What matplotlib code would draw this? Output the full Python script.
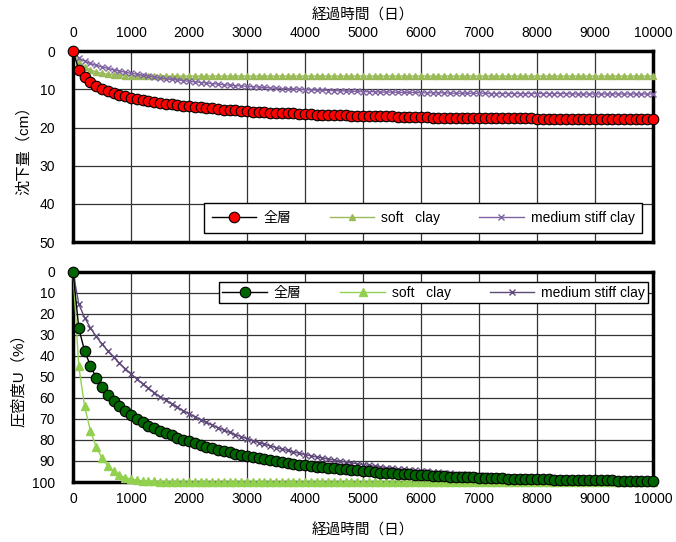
import matplotlib
matplotlib.use("Agg")
import matplotlib.pyplot as plt
import numpy as np

plt.rcParams["font.family"] = ["Liberation Sans", "Noto Sans CJK JP", "DejaVu Sans"]
plt.rcParams["font.size"] = 10

# 経過時間（日）: every 100 days
days = np.arange(0, 10001, 100)

# 沈下量 (cm)
settle_all = [
    0, 4.8, 6.7, 8.0, 9.0, 9.8, 10.5, 11.0, 11.4, 11.8,
    12.2, 12.5, 12.8, 13.1, 13.3, 13.6, 13.8, 13.9, 14.1, 14.3,
    14.4, 14.6, 14.7, 14.9, 15.0, 15.1, 15.3, 15.4, 15.5, 15.6,
    15.7, 15.8, 15.9, 16.0, 16.1, 16.1, 16.2, 16.3, 16.3, 16.4,
    16.5, 16.5, 16.6, 16.6, 16.7, 16.7, 16.8, 16.8, 16.9, 16.9,
    17.0, 17.0, 17.1, 17.1, 17.1, 17.1, 17.2, 17.2, 17.3, 17.3,
    17.3, 17.3, 17.4, 17.4, 17.4, 17.4, 17.4, 17.5, 17.5, 17.5,
    17.5, 17.5, 17.6, 17.6, 17.6, 17.6, 17.6, 17.6, 17.6, 17.6,
    17.7, 17.7, 17.7, 17.7, 17.7, 17.7, 17.7, 17.7, 17.7, 17.7,
    17.8, 17.8, 17.8, 17.8, 17.8, 17.8, 17.8, 17.8, 17.8, 17.8,
    17.8,
]
settle_soft = [
    0, 2.9, 4.2, 4.9, 5.4, 5.8, 6.0, 6.2, 6.3, 6.4,
    6.4, 6.4, 6.4, 6.4, 6.4, 6.4, 6.5, 6.5, 6.5, 6.5,
] + [6.5] * 81
settle_med = [
    0, 1.8, 2.6, 3.2, 3.7, 4.1, 4.5, 4.9, 5.2, 5.5,
    5.8, 6.0, 6.3, 6.5, 6.8, 7.0, 7.2, 7.4, 7.5, 7.7,
    7.9, 8.0, 8.2, 8.3, 8.5, 8.6, 8.8, 8.9, 9.0, 9.1,
    9.2, 9.3, 9.4, 9.5, 9.6, 9.7, 9.8, 9.8, 9.9, 10.0,
    10.1, 10.1, 10.2, 10.2, 10.3, 10.3, 10.4, 10.4, 10.5, 10.5,
    10.6, 10.6, 10.6, 10.7, 10.7, 10.7, 10.8, 10.8, 10.8, 10.8,
    10.9, 10.9, 10.9, 10.9, 10.9, 11.0, 11.0, 11.0, 11.0, 11.0,
    11.0, 11.0, 11.1, 11.1, 11.1, 11.1, 11.1, 11.1, 11.1, 11.1,
    11.1, 11.1, 11.1, 11.1, 11.1, 11.1, 11.2, 11.2, 11.2, 11.2,
    11.2, 11.2, 11.2, 11.2, 11.2, 11.2, 11.2, 11.2, 11.2, 11.2,
    11.2,
]

# 圧密度U (%)
u_all = [
    0, 26.8, 37.6, 44.6, 50.4, 54.9, 58.4, 61.3, 63.9, 66.2,
    68.2, 70.0, 71.6, 73.1, 74.4, 75.7, 76.9, 77.8, 78.9, 79.8,
    80.7, 81.5, 82.3, 83.1, 83.8, 84.6, 85.2, 85.9, 86.5, 87.1,
    87.6, 88.2, 88.7, 89.2, 89.7, 90.1, 90.5, 91.0, 91.3, 91.7,
    92.1, 92.3, 92.7, 93.0, 93.3, 93.5, 93.8, 94.0, 94.3, 94.5,
    94.8, 95.0, 95.3, 95.5, 95.7, 95.8, 96.0, 96.2, 96.4, 96.5,
    96.7, 96.9, 97.0, 97.1, 97.2, 97.4, 97.5, 97.6, 97.7, 97.8,
    97.9, 98.0, 98.1, 98.2, 98.2, 98.4, 98.4, 98.5, 98.6, 98.6,
    98.7, 98.7, 98.8, 98.9, 98.9, 98.9, 99.0, 99.1, 99.1, 99.1,
    99.2, 99.2, 99.2, 99.2, 99.3, 99.3, 99.4, 99.4, 99.4, 99.4,
    99.5,
]
u_soft = [
    0, 45.0, 64.0, 75.6, 83.3, 88.7, 92.4, 95.0, 96.7, 98.0,
    98.6, 99.1, 99.4, 99.6, 99.7, 99.8, 99.9, 99.9,
] + [100.0] * 83
u_med = [
    0, 15.3, 21.7, 26.6, 30.7, 34.3, 37.6, 40.6, 43.4, 46.0,
    48.5, 50.9, 53.2, 55.3, 57.4, 59.4, 61.0, 62.7, 64.4, 66.0,
    67.5, 68.9, 70.3, 71.6, 72.9, 74.1, 75.3, 76.4, 77.4, 78.4,
    79.4, 80.3, 81.2, 82.0, 82.8, 83.6, 84.3, 85.0, 85.7, 86.3,
    87.0, 87.5, 88.1, 88.6, 89.1, 89.6, 90.1, 90.5, 90.9, 91.3,
    91.7, 92.1, 92.5, 92.8, 93.1, 93.4, 93.7, 94.0, 94.3, 94.5,
    94.8, 95.0, 95.2, 95.4, 95.6, 95.8, 96.0, 96.2, 96.4, 96.5,
    96.7, 96.8, 97.0, 97.1, 97.2, 97.4, 97.5, 97.6, 97.7, 97.8,
    97.9, 98.0, 98.1, 98.2, 98.3, 98.3, 98.4, 98.5, 98.5, 98.6,
    98.7, 98.7, 98.8, 98.8, 98.9, 98.9, 99.0, 99.0, 99.1, 99.1,
    99.2,
]

labels = ["全層", "soft   clay", "medium stiff clay"]

fig = plt.figure(figsize=(6.76, 5.42), dpi=100)
ax1 = fig.add_axes([0.108, 0.5535, 0.858, 0.352])
ax2 = fig.add_axes([0.108, 0.1107, 0.858, 0.3875])

#######################上: 沈下量########################
ax1.plot(days, settle_all, color="black", lw=1, marker="o", ms=7.6,
         mfc="#FF0000", mec="black", mew=0.8, label=labels[0], clip_on=False, zorder=5)
ax1.plot(days, settle_soft, color="#9BBB59", lw=1, marker="^", ms=5,
         mfc="#9BBB59", mec="#9BBB59", label=labels[1], clip_on=False, zorder=4)
ax1.plot(days, settle_med, color="#8064A2", lw=1, marker="x", ms=4.2,
         mew=1, label=labels[2], clip_on=False, zorder=4)
ax1.set_xlim(0, 10000)
ax1.set_ylim(50, 0)
ax1.set_xticks(np.arange(0, 10001, 1000))
ax1.set_yticks(np.arange(0, 51, 10))
ax1.xaxis.tick_top()
ax1.xaxis.set_label_position("top")
ax1.set_xlabel("経過時間（日）", fontsize=10.5, labelpad=5)
ax1.set_ylabel("沈下量（cm）", fontsize=11, labelpad=6)
ax1.tick_params(axis="x", length=0, pad=8)
ax1.tick_params(axis="y", length=0, pad=13)
ax1.legend(loc="lower right", bbox_to_anchor=(0.986, 0.035), ncol=3, fancybox=False,
           edgecolor="black", framealpha=1, handlelength=3.2, columnspacing=2.8,
           handletextpad=0.5, borderpad=0.55, borderaxespad=0.2, fontsize=10)

#######################下: 圧密度########################
ax2.plot(days, u_all, color="black", lw=1, marker="o", ms=7.6,
         mfc="#006400", mec="black", mew=0.8, label=labels[0], clip_on=False, zorder=5)
ax2.plot(days, u_soft, color="#92D050", lw=1, marker="^", ms=5.5,
         mfc="#92D050", mec="#92D050", label=labels[1], clip_on=False, zorder=4)
ax2.plot(days, u_med, color="#604A7B", lw=1, marker="x", ms=4.2,
         mew=1, label=labels[2], clip_on=False, zorder=4)
ax2.set_xlim(0, 10000)
ax2.set_ylim(100, 0)
ax2.set_xticks(np.arange(0, 10001, 1000))
ax2.set_yticks(np.arange(0, 101, 10))
ax2.set_xlabel("経過時間（日）", fontsize=10.5, labelpad=13)
ax2.set_ylabel("圧密度U（%）", fontsize=11, labelpad=4)
ax2.tick_params(axis="x", length=0, pad=7)
ax2.tick_params(axis="y", length=0, pad=13)
ax2.legend(loc="upper right", bbox_to_anchor=(0.997, 0.965), ncol=3, fancybox=False,
           edgecolor="black", framealpha=1, handlelength=3.2, columnspacing=2.8,
           handletextpad=0.5, borderpad=0.25, borderaxespad=0.2, fontsize=10)

for ax in (ax1, ax2):
    ax.grid(True, color="#333333", lw=0.9)
    ax.set_axisbelow(True)
    for sp in ax.spines.values():
        sp.set_linewidth(2.5)
        sp.set_color("black")

fig.savefig("out.png", dpi=100)
